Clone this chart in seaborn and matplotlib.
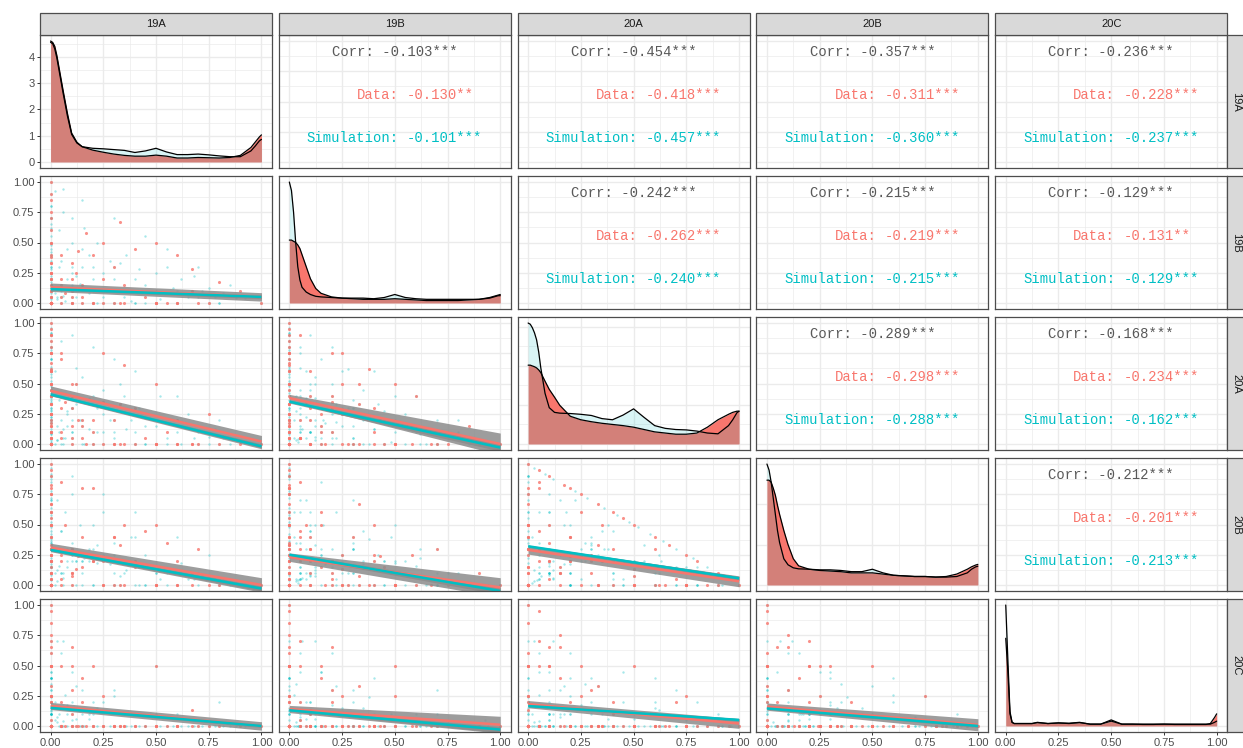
import matplotlib
matplotlib.use("Agg")
import pandas as pd
import matplotlib.pyplot as plt
from matplotlib.patches import Rectangle
from matplotlib.ticker import MultipleLocator, FixedLocator
import seaborn as sns

variables = ['19A', '19B', '20A', '20B', '20C']
group_names = ['Data', 'Simulation']
red = '#F8766D'
cyan = '#00BFC4'

# ---- lineage proportions per sample (Data) ----
data_19A = ([1, 0, 0, 0, 0, 0]
            + [0] * 14
            + [.5, .25, .75, .5, .33, .8, .67, .5, .2, .5, 0, 0, 0, 0, 0, 0, 0, 0]
            + [.1, .13, .17, .05, .2, .25, .4, .4, .3, .1, .15, .05, .33, 0, 0, .1, 0,
               .2, 0, .1, .6, .67, 0, 0, .15, 0, .05, .12, .25, 0, .35, .55, .07]
            + [0, 0, 0, 0, .3, 0, 0, 0, .1, 0, 0, 0, 0, .6, 0]
            + [0, 0, 0, 0, 0, 0, .05, .15, .45, .35, .6, .9, .05, 0, .3, 0, .1, 0, .7, 0])
data_19B = ([0, 1, 0, 0, 0, 0]
            + [0] * 14
            + [0, 0, 0, .5, .67, .17, .28, 0, 0, 0, .5, .25, .33, .5, 0, 0, 0, 0]
            + [.33, .43, .58, .4, .4, .2, .45, .1, .1, .1, .05, .15, 0, .2, .1, 0, .05,
               0, .33, .2, 0, .1, 0, .15, .15, .25, 0, .25, .5, .4, .15, 0, .08]
            + [.25, 0, 0, 0, 0, .75, 0, 0, 0, 0, .1, 0, 0, 0, 0]
            + [.9, .85, .7, .6, 0, .05, .05, 0, .05, 0, .4, .1, .2, 0, .3, .2, .05, .38, 0, 0])
data_20A = ([0, 0, 1, 0, 0, 0]
            + [.05, .1, .17, .2, .25, .33, .4, .45, .5, .6, .67, .75, .8, .9]
            + [.5, .75, .25, 0, 0, 0, 0, 0, 0, 0, .5, .75, 0, 0, .5, .75, 0, 0]
            + [.5, .2, 0, .3, .2, .35, 0, .3, .2, .4, .2, .1, .33, .4, .6, .15, .05,
               .1, .33, .3, .2, 0, .25, .25, .15, .25, .7, .5, 0, .1, 0, .1, .35]
            + [0, .33, 0, 0, 0, 0, 0, .85, 0, 0, 0, .6, 0, 0, 0]
            + [0, .15, 0, .4, .95, .9, .05, .05, .05, .65, 0, 0, .75, .05, 0, .1, .05, .62, 0, .15])
data_20B = ([0, 0, 0, 1, 0, 0]
            + [.95, .9, .83, .8, .75, .67, .6, .55, .5, .4, .33, .25, .2, .1]
            + [0, 0, 0, 0, 0, 0, 0, .5, .8, 0, 0, 0, .67, 0, 0, 0, .5, .75]
            + [.07, .24, .25, .25, .2, .2, .15, .2, .4, .3, .4, .2, .33, .2, .3, .1, .2,
               .2, 0, .1, .2, .1, .25, .6, .15, .25, .05, .13, 0, .5, .5, .35, .5]
            + [0, 0, .4, 0, 0, 0, .15, 0, 0, 0, 0, 0, .3, 0, 0]
            + [.1, 0, .3, 0, .05, 0, .85, .8, .45, 0, 0, 0, 0, 0, .4, .05, .3, 0, .3, .1])
data_20C = ([0, 0, 0, 0, 1, 0]
            + [0] * 14
            + [0, 0, 0, 0, 0, 0, 0, 0, 0, .5, 0, 0, 0, .5, .5, .25, .5, .25]
            + [0, 0, 0, 0, 0, 0, 0, 0, 0, .1, .2, .5, 0, .2, 0, .65, .7,
               .5, .33, .3, 0, .13, .5, 0, .4, .25, .2, 0, .25, 0, 0, 0, 0]
            + [0, 0, 0, .2, 0, 0, 0, 0, 0, .6, 0, 0, 0, 0, .85]
            + [0, 0, 0, 0, 0, .05, 0, 0, 0, 0, 0, 0, 0, .95, 0, .65, .5, 0, 0, .75])

# ---- lineage proportions per sample (Simulation) ----
sim_19A = ([1, 0, 0, 0, 0, 0]
           + [0] * 16
           + [.1, .2, .3, .4, .6, .8, .06, .15, .3, .45, .55, .7, .85, .1, .25, .4, .6, .75,
              0, 0, 0, 0, 0, 0, 0, 0, 0, 0, 0, 0, 0, 0, 0, 0, .8, .5, 0]
           + [0, 0, 0, 0, .2, 0, 0, 0, 0, .45, 0, 0, 0, 0]
           + [.05, .1, .08, .12, .2, .15, .25, .3, .04, .06, .1, .18, .35, .4, .5, .6, .7,
              .02, .03, .07, .1, .05, 0, 0, 0, 0, 0, .15, .22, .3, .1, .05, .2, .12, .25,
              .4, 0, 0, .08, .33, .1, .03]
           + [0] * 20
           + [.04, .08, .1, .12, .14, .16, .18, .2, .22, .25, .28, .3, .33, .36, .38, .42, .45,
              .5, .52, .55, .58, .62, .65, .68, .72, .75, .78, .82, .88, .92,
              .03, .06, 0, 0, .05, .02, 0, .1, .15, 0])
sim_19B = ([0, 1, 0, 0, 0, 0]
           + [0] * 16
           + [0, 0, 0, 0, 0, 0, .94, .85, .7, .55, .45, .3, .15, 0, 0, 0, 0, 0,
              .1, .2, .4, .6, .8, .15, .3, .5, .7, 0, 0, 0, 0, 0, 0, 0, 0, 0, .7]
           + [.45, 0, 0, 0, 0, .65, 0, 0, 0, 0, .9, 0, 0, 0]
           + [.1, .05, .2, .12, .1, .3, .25, .2, .6, .75, .5, .4, .05, .2, .1, .1, .05,
              .08, .05, .02, .15, .05, .2, .1, .3, .05, .15, 0, 0, 0, 0, .35, .3, .22, .1,
              .1, 0, .4, .12, .33, .25, .03]
           + [.12, .22, .35, .55, .62, .8, .08, .05, .28, .42, .17, .05, .1, .2, .48, .03,
              .7, .25, .38, .12, .3, .45, .7, .05, .16, .62, .08, .2, .5, .05, .35, .3, .1,
              .4, .02, .28, .15, .25, .03, .3, .12, .2, .05, .22, .1, .12, .05, .08, .04,
              .04, .12, .06, 0, 0, 0, .93, .15, .3, .45, .5])
sim_20A = ([0, 0, 1, 0, 0, 0]
           + [.03, .08, .12, .22, .28, .36, .42, .48, .52, .58, .64, .7, .78, .85, .92, .96]
           + [.9, .8, .7, .6, .4, .2, 0, 0, 0, 0, 0, 0, 0, 0, 0, 0, 0, 0,
              .9, .8, .6, .4, .2, 0, 0, 0, 0, .9, .8, .7, .6, 0, 0, 0, 0, 0, 0]
           + [0, .2, 0, 0, 0, 0, .45, 0, 0, 0, 0, .92, 0, 0]
           + [.4, .3, .25, .5, .1, .15, .25, .1, .1, .05, .2, .12, .4, .1, .2, .1, .1,
              .6, .15, .05, .05, .2, .5, .35, .3, .75, .1, .55, .3, .2, .1, 0, 0, .33, .45,
              0, .3, .2, .15, .33, .3, .03]
           + [.38, .18, .45, .25, .08, .1, .22, .8, .62, .33, .17, .45, .1, .05, .02, .27,
              .2, .6, 0, .55, .36, .27, .1, .63, .2, 0, .38, .4, .1, .1, .2, .05, .5, .12,
              .2, .3, .15, .15, .4, .05, .2, 0, .25, .05, .1, .06, .12, .05, .04, .02,
              .03, .12, .17, .62, .85, 0, .7, .3, .2, .4])
sim_20B = ([0, 0, 0, 1, 0, 0]
           + [.97, .92, .88, .78, .72, .64, .58, .52, .48, .42, .36, .3, .22, .15, .08, .04]
           + [0, 0, 0, 0, 0, 0, 0, 0, 0, 0, 0, 0, 0, .9, .75, .6, .4, .25,
              0, 0, 0, 0, 0, .85, .7, .5, .3, 0, 0, 0, 0, .9, .75, .6, 0, 0, 0]
           + [0, 0, .35, 0, 0, 0, 0, .55, 0, 0, 0, 0, .9, 0]
           + [.45, .35, .3, .2, .5, .1, .25, .1, .16, .1, .2, .2, .1, .2, .1, .1, .1,
              .1, .7, .6, .25, .1, .2, .45, .4, .15, .3, .2, .33, .25, .75, .45, .3, 0, 0,
              .4, .3, 0, .15, 0, .25, .03]
           + [.5, .6, .2, .2, .3, .1, .7, .15, .1, .25, .17, .05, .6, .15, .4, .35, 0, 0,
              .38, .33, .3, .2, .1, .2, .5, .22, .3, .2, .18, .6, .17, .35, .07, .12, .4, 0,
              .25, .1, .05, .1, .1, .18, .05, .05, .08, .07, .05, .05, .04, .02,
              .12, .06, .5, .25, .1, 0, .15, .3, .2, .1])
sim_20C = ([0, 0, 0, 0, 1, 0]
           + [0] * 16
           + [0, 0, 0, 0, 0, 0, 0, 0, 0, 0, 0, 0, 0, 0, 0, 0, 0, 0,
              0, 0, 0, 0, 0, 0, 0, 0, 0, .1, .2, .3, .4, .1, .25, .4, .2, .5, .3]
           + [0, 0, 0, .12, 0, 0, 0, 0, .4, 0, 0, 0, 0, .7]
           + [0, .2, .17, .06, .1, .3, 0, .3, .1, .04, 0, .1, .1, .1, .1, .1, .05,
              .2, .07, .26, .45, .6, .1, .1, 0, .05, .45, .1, .15, .25, .05, .15, .2, .33, .2,
              .1, .4, .4, .1, 0, .1, .03]
           + [0, 0, 0, 0, 0, 0, 0, 0, 0, 0, .1, .45, .2, .6, .1, .35, .1, .15, .24, 0]
           + [0, 0, 0, 0, 0, 0, .06, 0, 0, 0, 0, 0, 0, 0, 0, 0, 0, 0, 0, 0]
           + [0, 0, 0, 0, 0, 0, 0, 0, 0, 0, .7, .7, .33, .13, 0, .05, 0, 0, 0, 0])

# ---- diagonal densities ----
dens_x = [0, .01, .02, .03, .04, .05, .06, .08, .1, .125, .15, .2, .25, .3, .35,
          .4, .45, .5, .55, .6, .65, .7, .75, .8, .85, .9, .95, .97, .99, 1.0]
dens_data_19A = [4.6, 4.55, 4.4, 4.05, 3.6, 3.15, 2.7, 1.85, 1.1, 0.75, 0.58, 0.45, 0.37, 0.3, 0.25,
                 0.22, 0.22, 0.26, 0.22, 0.15, 0.15, 0.17, 0.16, 0.15, 0.17, 0.25, 0.55, 0.75, 0.95, 1.03]
dens_sim_19A = [4.55, 4.5, 4.3, 3.95, 3.5, 3.05, 2.6, 1.75, 1.05, 0.72, 0.58, 0.52, 0.5, 0.47, 0.44,
                0.36, 0.42, 0.52, 0.38, 0.28, 0.28, 0.3, 0.27, 0.23, 0.2, 0.2, 0.42, 0.6, 0.8, 0.86]
dens_data_19B = [5.2, 5.2, 5.1, 5.0, 4.8, 4.5, 4.0, 3.0, 2.0, 1.2, 0.8, 0.5, 0.4, 0.35, 0.3,
                 0.3, 0.3, 0.35, 0.3, 0.25, 0.2, 0.2, 0.2, 0.2, 0.25, 0.3, 0.45, 0.55, 0.65, 0.7]
dens_sim_19B = [10.0, 9.3, 7.5, 5.0, 3.0, 1.9, 1.3, 0.9, 0.7, 0.55, 0.5, 0.45, 0.4, 0.4, 0.4,
                0.35, 0.45, 0.7, 0.45, 0.35, 0.3, 0.3, 0.3, 0.3, 0.3, 0.3, 0.4, 0.5, 0.6, 0.6]
dens_data_20A = [2.02, 2.02, 2.0, 1.98, 1.95, 1.9, 1.83, 1.61, 1.4, 1.2, 0.99, 0.71, 0.62, 0.57, 0.53,
                 0.5, 0.47, 0.43, 0.37, 0.31, 0.28, 0.25, 0.25, 0.28, 0.43, 0.62, 0.76, 0.81, 0.84, 0.84]
dens_sim_20A = [3.1, 3.07, 2.98, 2.85, 2.67, 2.36, 1.95, 1.3, 0.93, 0.81, 0.79, 0.78, 0.76, 0.73, 0.65,
                0.62, 0.74, 0.9, 0.68, 0.47, 0.4, 0.37, 0.36, 0.33, 0.28, 0.26, 0.47, 0.62, 0.8, 0.84]
dens_data_20B = [5.2, 5.2, 5.1, 4.8, 4.45, 3.95, 3.5, 2.7, 2.0, 1.3, 0.95, 0.78, 0.72, 0.69, 0.66,
                 0.6, 0.6, 0.6, 0.54, 0.48, 0.45, 0.42, 0.42, 0.39, 0.42, 0.54, 0.78, 0.9, 0.99, 1.02]
dens_sim_20B = [6.0, 5.7, 5.1, 4.3, 3.5, 2.7, 2.1, 1.3, 1.0, 0.85, 0.8, 0.78, 0.75, 0.75, 0.72,
                0.66, 0.66, 0.78, 0.6, 0.48, 0.45, 0.42, 0.42, 0.39, 0.39, 0.42, 0.6, 0.78, 0.9, 0.93]
dens_data_20C = [29.0, 18.0, 4.0, 1.2, 0.8, 0.8, 0.8, 0.8, 0.8, 0.8, 1.1, 0.8, 1.0, 0.8, 1.1,
                 0.6, 0.6, 1.6, 0.6, 0.6, 0.5, 0.5, 0.6, 0.5, 0.5, 0.5, 0.5, 0.8, 2.8, 4.0]
dens_sim_20C = [40.0, 22.0, 4.8, 1.2, 0.8, 0.8, 0.8, 0.8, 0.8, 0.8, 1.2, 0.8, 1.0, 0.9, 1.2,
                0.6, 0.6, 2.0, 0.6, 0.6, 0.6, 0.6, 0.6, 0.6, 0.6, 0.6, 0.6, 0.6, 1.2, 1.6]
dens_data = [dens_data_19A, dens_data_19B, dens_data_20A, dens_data_20B, dens_data_20C]
dens_sim = [dens_sim_19A, dens_sim_19B, dens_sim_20A, dens_sim_20B, dens_sim_20C]

# ---- upper panels: correlations ----
cor_pairs = [('19A', '19B'), ('19A', '20A'), ('19A', '20B'), ('19A', '20C'),
             ('19B', '20A'), ('19B', '20B'), ('19B', '20C'),
             ('20A', '20B'), ('20A', '20C'), ('20B', '20C')]
cor_all = ['-0.103***', '-0.454***', '-0.357***', '-0.236***', '-0.242***',
           '-0.215***', '-0.129***', '-0.289***', '-0.168***', '-0.212***']
cor_data = ['-0.130**', '-0.418***', '-0.311***', '-0.228***', '-0.262***',
            '-0.219***', '-0.131**', '-0.298***', '-0.234***', '-0.201***']
cor_sim = ['-0.101***', '-0.457***', '-0.360***', '-0.237***', '-0.240***',
           '-0.215***', '-0.129***', '-0.288***', '-0.162***', '-0.213***']

# ---- lower panels: linear fits (value at x=0, value at x=1, ci half width at 0 and 1) ----
fit_pairs = [('19B', '19A'), ('20A', '19A'), ('20A', '19B'), ('20B', '19A'), ('20B', '19B'),
             ('20B', '20A'), ('20C', '19A'), ('20C', '19B'), ('20C', '20A'), ('20C', '20B')]
fit_data_y0 = [0.13, 0.44, 0.38, 0.31, 0.23, 0.29, 0.165, 0.14, 0.18, 0.16]
fit_data_y1 = [0.05, 0.02, 0.0, 0.0, -0.02, 0.03, 0.0, 0.01, 0.02, 0.01]
fit_data_h0 = [0.035, 0.04, 0.03, 0.035, 0.035, 0.035, 0.03, 0.03, 0.03, 0.03]
fit_data_h1 = [0.035, 0.05, 0.09, 0.06, 0.08, 0.045, 0.035, 0.07, 0.04, 0.05]
fit_sim_y0 = [0.115, 0.41, 0.35, 0.29, 0.25, 0.32, 0.15, 0.13, 0.165, 0.145]
fit_sim_y1 = [0.05, -0.02, -0.03, -0.03, -0.05, 0.055, 0.0, -0.03, 0.05, 0.0]
fit_sim_h0 = [0.01, 0.012, 0.012, 0.01, 0.01, 0.01, 0.008, 0.008, 0.008, 0.008]
fit_sim_h1 = [0.015, 0.02, 0.03, 0.02, 0.03, 0.015, 0.012, 0.025, 0.012, 0.012]

df_data = pd.DataFrame({'19A': data_19A, '19B': data_19B, '20A': data_20A,
                        '20B': data_20B, '20C': data_20C})
df_sim = pd.DataFrame({'19A': sim_19A, '19B': sim_19B, '20A': sim_20A,
                       '20B': sim_20B, '20C': sim_20C})

sns.set_theme(style='white')
plt.rcParams['font.family'] = ['Liberation Sans', 'DejaVu Sans']
mono = ['Liberation Mono', 'DejaVu Sans Mono']

W, H = 1243, 748
fig = plt.figure(figsize=(W / 100, H / 100), dpi=100)
left0, pw, gx = 40, 232, 6.8
top0, ph, gy = 35, 133, 8
border = '#4D4D4D'
grid_c = '#EBEBEB'
tick_lab = ['0.00', '0.25', '0.50', '0.75', '1.00']


def panel_px(r, c):
    return left0 + c * (pw + gx), top0 + r * (ph + gy)


axes = [[None] * 5 for _ in range(5)]
for r in range(5):
    for c in range(5):
        x, y = panel_px(r, c)
        ax = fig.add_axes([x / W, 1 - (y + ph) / H, pw / W, ph / H])
        axes[r][c] = ax
        ax.set_xlim(-0.05, 1.05)
        ax.xaxis.set_major_locator(FixedLocator([0, .25, .5, .75, 1]))
        ax.xaxis.set_minor_locator(FixedLocator([.125, .375, .625, .875]))
        if r != c:
            ax.set_ylim(-0.05, 1.05)
            ax.yaxis.set_major_locator(FixedLocator([0, .25, .5, .75, 1]))
            ax.yaxis.set_minor_locator(FixedLocator([.125, .375, .625, .875]))
        for s in ax.spines.values():
            s.set_color(border)
            s.set_linewidth(0.9)
        ax.tick_params(which='both', length=0, labelbottom=False, labelleft=False)
        if c == 0:
            ax.tick_params(which='major', axis='y', left=True, length=2.5, width=0.7,
                           color='#333333', labelleft=True, labelsize=8, labelcolor='#4D4D4D', pad=1.5)
        if r == 4:
            ax.tick_params(which='major', axis='x', bottom=True, length=2.5, width=0.7,
                           color='#333333', labelbottom=True, labelsize=8, labelcolor='#4D4D4D', pad=1.5)
            ax.set_xticklabels(tick_lab)
        if c == 0 and r > 0:
            ax.set_yticklabels(tick_lab)
        ax.set_axisbelow(True)

# diagonal densities
for i in range(5):
    ax = axes[i][i]
    m = max(max(dens_data[i]), max(dens_sim[i]))
    ax.set_ylim(-0.05 * m, 1.05 * m)
    ax.fill_between(dens_x, 0, dens_data[i], color=red, alpha=1.0, lw=0)
    ax.plot(dens_x, dens_data[i], color='black', lw=0.9)
    ax.fill_between(dens_x, 0, dens_sim[i], color=cyan, alpha=0.15, lw=0)
    ax.plot(dens_x, dens_sim[i], color='black', lw=0.9)
    if i in (0, 2):
        ax.yaxis.set_major_locator(MultipleLocator(1))
        ax.yaxis.set_minor_locator(MultipleLocator(0.5))
    ax.set_xlim(-0.05, 1.05)
axes[0][0].yaxis.set_major_formatter(plt.FuncFormatter(lambda v, p: f'{v:.0f}'))

# lower scatter panels with fits
for k, (rv, cv) in enumerate(fit_pairs):
    r, c = variables.index(rv), variables.index(cv)
    ax = axes[r][c]
    sns.scatterplot(data=df_sim, x=cv, y=rv, color=cyan, s=3, alpha=0.35,
                    linewidth=0, ax=ax, legend=False)
    sns.scatterplot(data=df_data, x=cv, y=rv, color=red, s=5, alpha=0.8,
                    linewidth=0, ax=ax, legend=False)
    for y0, y1, h0, h1, col in [(fit_data_y0[k], fit_data_y1[k], fit_data_h0[k], fit_data_h1[k], red),
                                (fit_sim_y0[k], fit_sim_y1[k], fit_sim_h0[k], fit_sim_h1[k], cyan)]:
        ax.fill_between([0, 1], [y0 - h0, y1 - h1], [y0 + h0, y1 + h1],
                        color='#8C8C8C', alpha=0.85, lw=0)
        ax.plot([0, 1], [y0, y1], color=col, lw=1.8, solid_capstyle='butt')
    ax.set_xlabel('')
    ax.set_ylabel('')
    if r == 4:
        ax.set_xticklabels(tick_lab)

# grid on every panel
for r in range(5):
    for c in range(5):
        axes[r][c].grid(which='major', color=grid_c, lw=1.0)
        axes[r][c].grid(which='minor', color=grid_c, lw=0.5)

# upper correlation panels
cw = 8.33 / pw
for k, (rv, cv) in enumerate(cor_pairs):
    r, c = variables.index(rv), variables.index(cv)
    ax = axes[r][c]
    ax.text(0.5, 0.872, 'Corr: ' + cor_all[k], transform=ax.transAxes, ha='center',
            va='center', color='#595959', family=mono, fontsize=10)
    xs = 0.5 + 4 / pw
    for yy, lab, val, col in [(0.549, 'Data:', cor_data[k], red),
                              (0.226, 'Simulation:', cor_sim[k], cyan)]:
        ax.text(xs, yy, lab, transform=ax.transAxes, ha='right', va='center',
                color=col, family=mono, fontsize=10)
        ax.text(xs + cw, yy, val, transform=ax.transAxes, ha='left', va='center',
                color=col, family=mono, fontsize=10)

# strips
for c in range(5):
    x, _ = panel_px(0, c)
    fig.add_artist(Rectangle((x / W, 1 - 35 / H), pw / W, 22 / H, transform=fig.transFigure,
                             facecolor='#D9D9D9', edgecolor=border, lw=0.9))
    fig.text((x + pw / 2) / W, 1 - 24 / H, variables[c], ha='center', va='center',
             fontsize=8, color='#1A1A1A')
for r in range(5):
    _, y = panel_px(r, 0)
    xr = left0 + 5 * pw + 4 * gx
    fig.add_artist(Rectangle((xr / W, 1 - (y + ph) / H), 25 / W, ph / H, transform=fig.transFigure,
                             facecolor='#D9D9D9', edgecolor=border, lw=0.9))
    fig.text((xr + 9) / W, 1 - (y + ph / 2) / H, variables[r], ha='center', va='center',
             rotation=-90, fontsize=8, color='#1A1A1A')

fig.savefig('out.png', dpi=100)
